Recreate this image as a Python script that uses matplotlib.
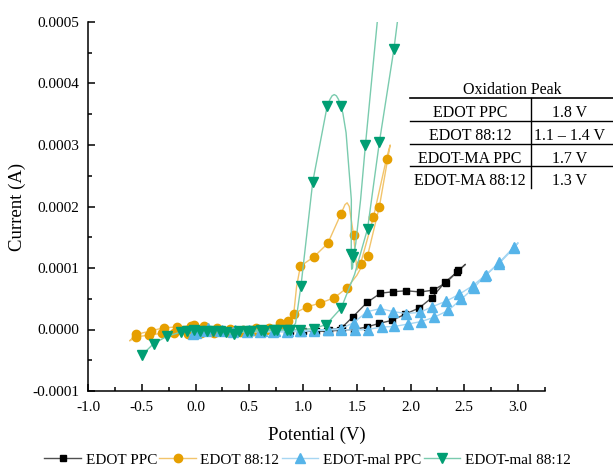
import numpy as np
import matplotlib
matplotlib.use('Agg')
import matplotlib.pyplot as plt
from matplotlib.ticker import MultipleLocator, FormatStrFormatter
from matplotlib.lines import Line2D

plt.rcParams['font.family'] = ['Liberation Serif', 'DejaVu Serif']
plt.rcParams['axes.unicode_minus'] = False

# potential (V), current (uA), marker flag (1 = symbol drawn at that point)
ppc_v = [0.73, 0.855, 0.975, 1.10, 1.22, 1.345, 1.47, 1.59, 1.71, 1.83, 1.95, 2.08, 2.20, 2.32, 2.43, 2.51,
         2.445, 2.33, 2.21, 2.09, 1.96, 1.84, 1.72, 1.595, 1.46, 1.36, 1.24, 1.12, 1.00, 0.88, 0.76]
ppc_i = [-2, -3, -3, -3, -3, -1, 0, 4, 10, 15, 25, 35, 52, 77, 93, 106,
         96, 76, 64, 61, 63, 61.5, 59, 44, 20, 3, -1, -2, -2, -2, -2]
ppc_m = [1, 1, 1, 1, 1, 1, 1, 1, 1, 1, 1, 1, 1, 1, 1, 0,
         1, 1, 1, 1, 1, 1, 1, 1, 1, 1, 1, 1, 1, 1, 0]

edot8812_v = [-0.61, -0.55, -0.43, -0.31, -0.20, -0.07, 0.05, 0.17, 0.29, 0.41, 0.53, 0.66, 0.79, 0.857, 0.915,
              1.04, 1.16, 1.29, 1.41, 1.50, 1.60, 1.71, 1.81,
              1.776, 1.655, 1.535, 1.50, 1.47, 1.43, 1.41, 1.39, 1.35, 1.23, 1.10, 0.975, 0.94, 0.91, 0.86,
              0.80, 0.68, 0.56, 0.44, 0.32, 0.20, 0.08, -0.01, -0.04, -0.17, -0.29, -0.41, -0.55, -0.61]
edot8812_i = [-18, -12, -9, -6, -6, -7, -5, -5, -4, -4, -3, -1, 10, 13.5, 26,
              37, 43, 51.5, 68, 88, 120, 200, 300,
              278, 183, 107, 97, 153, 200, 206, 203, 187, 140, 118, 103, 70, 20, 10,
              6, 3, 2, 0, 1, 2, 5, 7, 6.5, 4, 3, -2, -8, -18]
edot8812_m = [0, 1, 1, 1, 1, 1, 1, 1, 1, 1, 1, 1, 1, 1, 1,
              1, 1, 1, 1, 0, 1, 1, 0,
              1, 1, 1, 0, 1, 0, 0, 0, 1, 1, 1, 1, 0, 0, 0,
              1, 1, 1, 1, 1, 1, 1, 1, 1, 1, 1, 1, 1, 0]

malppc_v = [-0.05, -0.02, 0.10, 0.23, 0.35, 0.48, 0.60, 0.72, 0.85, 0.97, 1.10, 1.23, 1.35, 1.48, 1.60,
            1.73, 1.85, 1.98, 2.10, 2.22, 2.35, 2.47, 2.59, 2.69, 2.82, 2.96, 3.00,
            2.96, 2.825, 2.70, 2.58, 2.45, 2.33, 2.20, 2.09, 1.96, 1.84, 1.72, 1.595, 1.47, 1.355,
            1.23, 1.10, 0.98, 0.86, 0.74, 0.62, 0.50, 0.37, 0.25, 0.12, 0.00]
malppc_i = [-9, -8, -3, -3, -4, -4, -4, -4, -4, -3, -2, -1, 0, -1, 0,
            4, 5, 9, 13, 20, 31, 49, 68, 87, 107, 132, 141,
            134, 109, 89, 71.5, 57, 46, 37, 28, 26, 29, 34, 29, 11, 1.5,
            0, -1, -2, -2, -2, -2, -1, -1, 0, 2, -5]
malppc_m = [0, 1, 1, 1, 1, 1, 1, 1, 1, 1, 1, 1, 1, 1, 1,
            1, 1, 1, 1, 1, 1, 1, 1, 1, 1, 1, 0,
            1, 1, 1, 1, 1, 1, 1, 1, 1, 1, 1, 1, 1, 1,
            1, 1, 1, 1, 1, 1, 1, 1, 1, 1, 1]

mal8812_v = [-0.50, -0.39, -0.265, -0.134, -0.016, 0.11, 0.23, 0.36, 0.48, 0.61, 0.73, 0.85, 0.975, 1.10,
             1.215, 1.355, 1.48, 1.60, 1.71, 1.845, 1.95,
             1.75, 1.69, 1.58, 1.535, 1.49, 1.468, 1.46, 1.452, 1.448, 1.449, 1.40, 1.37, 1.349, 1.33, 1.31,
             1.29, 1.27, 1.25, 1.224, 1.09, 0.98, 0.93, 0.88, 0.76, 0.64, 0.52, 0.40, 0.28, 0.16, 0.04,
             -0.08, -0.15]
mal8812_i = [-42, -23, -11, -4, -1, -2, -3, -8, -2, 0, 0, 0, 0, 1.5,
             8, 35, 90, 164, 305, 456, 600,
             620, 500, 300, 211, 140, 118, 100, 98, 122, 211, 320, 352, 363, 374, 380,
             382, 380, 374, 363, 240, 70, 10, 0, -1, -2, -3, -3, -4, -3, -3,
             -3, -4]
mal8812_m = [1, 1, 1, 1, 1, 1, 1, 1, 1, 1, 1, 1, 1, 1,
             1, 1, 0, 1, 1, 1, 0,
             0, 0, 1, 0, 0, 1, 0, 0, 1, 0, 0, 0, 1, 0, 0,
             0, 0, 0, 1, 1, 1, 0, 1, 1, 1, 1, 1, 1, 1, 1,
             1, 0]

labels = ['EDOT PPC', 'EDOT 88:12', 'EDOT-mal PPC', 'EDOT-mal 88:12']
mark_colors = ['#000000', '#E69F00', '#56B4E9', '#009E73']
line_colors = ['#505050', '#F2C46B', '#A6D6F2', '#7ACBAE']
markers = ['s', 'o', '^', 'v']
msizes = [5, 6, 6.5, 6.5]

table_rows = ['EDOT PPC', 'EDOT 88:12', 'EDOT-MA PPC', 'EDOT-MA 88:12']
table_vals = ['1.8 V', '1.1 \u2013 1.4 V', '1.7 V', '1.3 V']

W, H = 613, 468
fig = plt.figure(figsize=(W / 100, H / 100), dpi=100)
ax = fig.add_axes([88 / W, 1 - 391 / H, (545 - 88) / W, (391 - 22) / H])

series = [(ppc_v, ppc_i, ppc_m), (edot8812_v, edot8812_i, edot8812_m),
          (malppc_v, malppc_i, malppc_m), (mal8812_v, mal8812_i, mal8812_m)]
handles = []
for k, (v, i, m) in enumerate(series):
    v = np.array(v)
    i = np.array(i) * 1e-6
    m = np.array(m, dtype=bool)
    ax.plot(v, i, color=line_colors[k], lw=1.0, zorder=2 + k)
    ax.plot(v[m], i[m], ls='none', marker=markers[k], ms=msizes[k],
            color=mark_colors[k], mec=mark_colors[k], zorder=2 + k)
    handles.append(Line2D([], [], color=line_colors[k], lw=1.0, marker=markers[k],
                          ms=msizes[k], mfc=mark_colors[k], mec=mark_colors[k]))

ax.set_xlim(-1.0, 3.25)
ax.set_ylim(-0.0001, 0.0005)
ax.xaxis.set_major_locator(MultipleLocator(0.5))
ax.xaxis.set_minor_locator(MultipleLocator(0.25))
ax.yaxis.set_major_locator(MultipleLocator(0.0001))
ax.yaxis.set_minor_locator(MultipleLocator(0.00005))
ax.xaxis.set_major_formatter(FormatStrFormatter('%.1f'))
ax.yaxis.set_major_formatter(FormatStrFormatter('%.4f'))
for s in ['top', 'right']:
    ax.spines[s].set_visible(False)
for s in ['left', 'bottom']:
    ax.spines[s].set_linewidth(1.1)
ax.tick_params(which='major', direction='in', length=5, width=1.1, labelsize=11)
ax.tick_params(which='minor', direction='in', length=3, width=1.1)
ax.tick_params(axis='x', which='major', pad=7)
ax.tick_params(axis='y', which='major', pad=6)
ax.set_xlabel('Potential (V)', fontsize=13.5, labelpad=9)
ax.set_ylabel('Current (A)', fontsize=13.5, labelpad=5)

fig.legend(handles, labels, loc='center', bbox_to_anchor=(307.5 / W, 1 - 460 / H), ncol=4,
           frameon=False, fontsize=11, handlelength=2.4, handletextpad=0.3,
           columnspacing=0.15, borderpad=0)

# oxidation peak table
def fx(px):
    return px / W

def fy(py):
    return 1 - py / H

fig.text(fx(512.7), fy(94.5), 'Oxidation Peak', fontsize=11.5, ha='center', va='baseline')
fig.add_artist(Line2D([fx(410), fx(613)], [fy(98.3), fy(98.3)], color='black', lw=1.2))
for yl in [120.5, 143.5, 166]:
    fig.add_artist(Line2D([fx(410), fx(613)], [fy(yl), fy(yl)], color='black', lw=1.0))
fig.add_artist(Line2D([fx(530.7), fx(530.7)], [fy(98.3), fy(188)], color='black', lw=1.0))
for r, (name, val) in enumerate(zip(table_rows, table_vals)):
    yb = [117.3, 139.8, 162.7, 185.0][r]
    fig.text(fx(470), fy(yb), name, fontsize=11.5, ha='center', va='baseline')
    fig.text(fx(570), fy(yb), val, fontsize=11.5, ha='center', va='baseline')

fig.savefig('out.png', dpi=100)
